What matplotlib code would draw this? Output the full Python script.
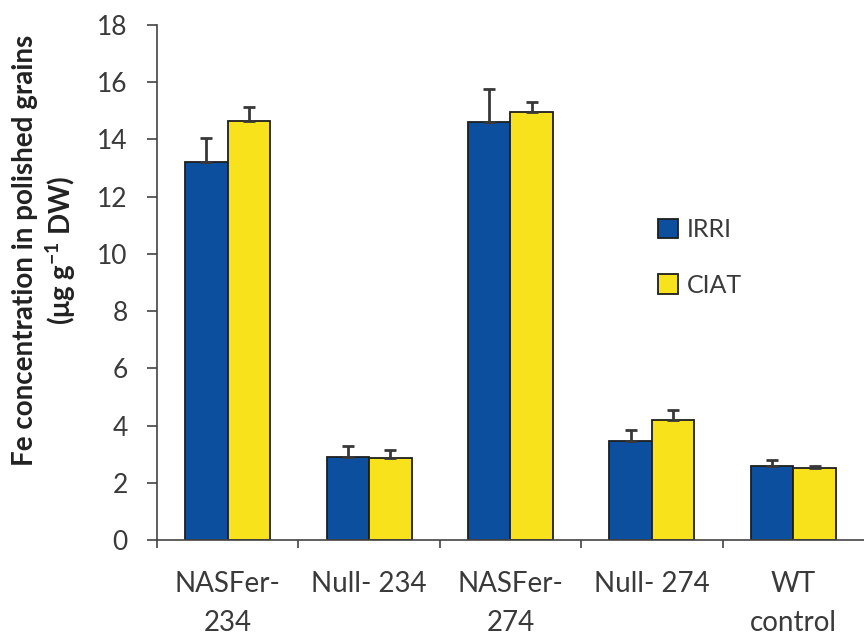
import numpy as np
import matplotlib
matplotlib.use("Agg")
import matplotlib.pyplot as plt
from matplotlib.patches import Patch

plt.rcParams['font.family'] = ['Lato', 'DejaVu Sans']
plt.rcParams['mathtext.default'] = 'regular'

lines = ["NASFer-\n234", "Null- 234", "NASFer-\n274", "Null- 274", "WT\ncontrol"]
irri = [13.2, 2.9, 14.6, 3.45, 2.6]
irri_err = [0.85, 0.4, 1.15, 0.4, 0.18]
ciat = [14.65, 2.88, 14.95, 4.2, 2.52]
ciat_err = [0.5, 0.27, 0.35, 0.35, 0.05]

BLUE = '#0d4f9f'
YELLOW = '#f8e21c'
EDGE = '#1e1e1e'
TEXT = '#3a3a3a'

fig = plt.figure(figsize=(8.64, 6.35), dpi=100, facecolor='white')
ax = fig.add_axes([0.1817, 0.1496, 0.8183, 0.811])

x = np.arange(len(lines))
w = 0.3
err_kw = dict(ecolor='#383838', elinewidth=2, capsize=4.5, capthick=2)
ax.bar(x - w / 2, irri, w, color=BLUE, edgecolor=EDGE, linewidth=1.3,
       yerr=[np.zeros(len(irri)), irri_err], error_kw=err_kw, label='IRRI')
ax.bar(x + w / 2, ciat, w, color=YELLOW, edgecolor=EDGE, linewidth=1.3,
       yerr=[np.zeros(len(ciat)), ciat_err], error_kw=err_kw, label='CIAT')

ax.set_xlim(-0.5, len(lines) - 0.5)
ax.set_ylim(0, 18)
ax.set_yticks(np.arange(0, 19, 2))
ax.set_xticks(x)
ax.set_xticklabels(lines, fontsize=20, color=TEXT, linespacing=1.65)
# group separators as minor ticks on the category axis
ax.set_xticks(np.arange(-0.5, len(lines) - 0.5, 1), minor=True)
ax.tick_params(axis='x', which='major', length=0, pad=22)
ax.tick_params(axis='x', which='minor', length=6, width=1.2, color='#444444')
ax.tick_params(axis='y', length=7, width=1.2, color='#444444',
               labelsize=19, labelcolor=TEXT, pad=14)

ax.spines['top'].set_visible(False)
ax.spines['right'].set_visible(False)
ax.spines['left'].set_color('#444444')
ax.spines['bottom'].set_color('#444444')
ax.spines['left'].set_linewidth(1.2)
ax.spines['bottom'].set_linewidth(1.2)

ax.set_ylabel("Fe concentration in polished grains\n(μg g$^{-1}$ DW)",
              fontsize=20, fontweight='bold', color='#222222',
              linespacing=1.2)
ax.yaxis.set_label_coords(-0.112, 0.563)

handles = [Patch(facecolor=BLUE, edgecolor=EDGE, linewidth=1.3),
           Patch(facecolor=YELLOW, edgecolor=EDGE, linewidth=1.3)]
ax.legend(handles, ['IRRI', 'CIAT'], loc='upper left',
          bbox_to_anchor=(0.709, 0.625), frameon=False, fontsize=18,
          handlelength=0.8, handleheight=0.8, handletextpad=0.35,
          labelspacing=1.3, borderpad=0, borderaxespad=0, labelcolor=TEXT)

fig.savefig("out.png", dpi=100, facecolor='white')
